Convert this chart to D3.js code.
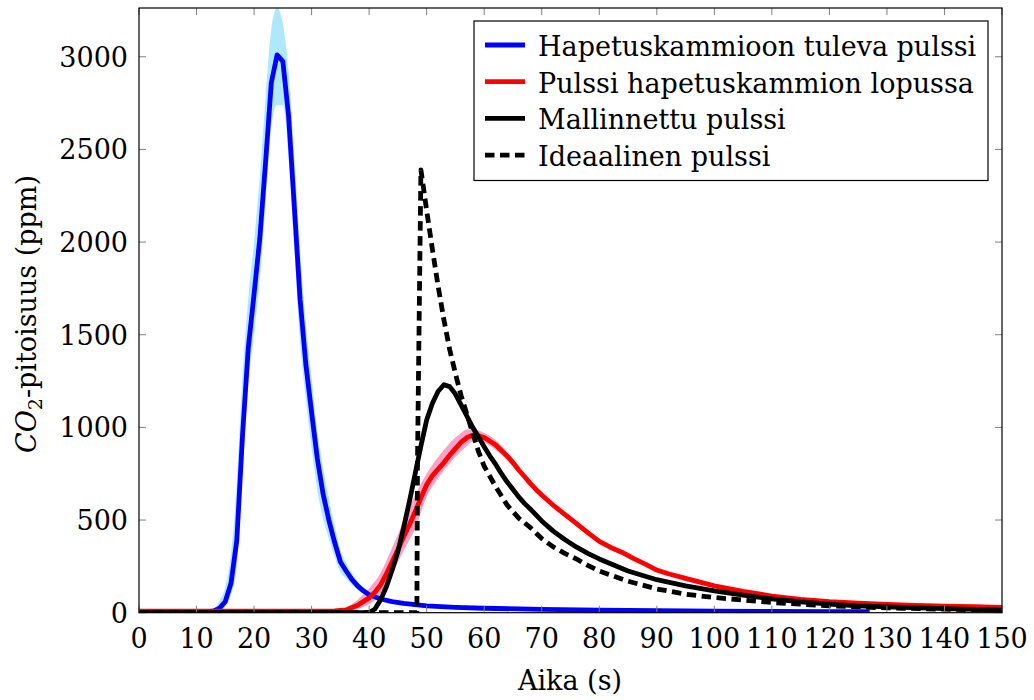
<!DOCTYPE html>
<html><head><meta charset="utf-8">
<script src="https://cdn.jsdelivr.net/npm/d3@7"></script>
<style>
body{margin:0;background:#fff;}
</style></head>
<body><svg id="c" width="1034" height="700" font-family="'DejaVu Serif', 'Liberation Serif', serif"></svg>
<script>
// ---- data ----
const xTicks = [0,10,20,30,40,50,60,70,80,90,100,110,120,130,140,150];
const yTicks = [0,500,1000,1500,2000,2500,3000];
const legendLabels = ["Hapetuskammioon tuleva pulssi","Pulssi hapetuskammion lopussa","Mallinnettu pulssi","Ideaalinen pulssi"];

const blueT = [0,5,10,12,13,14,15,16,17,18,19,20,21,22,23,24,25,26,27,28,29,30,31,32,33,34,35,36,37,38,39,40,42,44,46,48,50,55,60,70,80,90,100,110,120,127];
const blueV = [5,5,5,6,10,25,60,160,390,960,1430,1720,2020,2430,2860,3010,2975,2680,2190,1690,1340,1080,830,640,500,380,275,225,180,145,118,97,74,60,50,43,37,29,24,18,14,11,9,7,6,5];
const blueBandT = [12,13,14,15,16,17,18,19,20,21,22,23,24,25,26,27,28,29,30,31,32,33,34,35,36,37,38,40];
const blueUpper = [8,22,65,140,320,700,1280,1700,2000,2350,2780,3150,3263,3180,2920,2460,1960,1560,1270,980,780,620,470,340,270,215,170,112];
const blueLower = [4,6,12,35,95,240,780,1240,1500,1800,2200,2620,2740,2740,2450,1960,1460,1150,890,660,510,400,300,220,185,150,122,86];

const redT = [0,10,20,30,34,36,38,40,41,42,43,44,45,46,47,48,49,50,51,52,53,54,55,56,57,58,59,60,61,62,63,64,65,66,67,68,69,70,72,74,76,78,80,82,84,86,88,90,92,95,100,105,110,115,120,125,130,135,140,145,150];
const redV = [8,8,8,8,10,15,40,80,110,150,210,275,340,410,475,545,620,690,740,775,810,850,885,920,945,958,955,945,925,905,875,845,810,770,735,698,665,635,580,530,482,432,385,352,325,292,262,230,210,185,145,115,90,72,60,52,45,40,35,32,28];
const redBandT = [34,36,38,40,42,44,46,48,50,52,54,56,57,58,60,62,64,66];
const redUpper = [14,28,70,130,215,350,495,635,750,840,915,970,988,988,970,932,866,790];
const redLower = [6,8,20,45,100,205,335,455,625,725,805,872,900,922,916,878,822,752];

const modelT = [0,40,41,42,43,44,45,46,47,48,49,50,51,52,53,54,55,56,57,58,59,60,61,62,63,64,65,66,67,68,70,72,74,76,78,80,85,90,95,100,105,110,115,120,125,130,140,150];
const modelV = [0,0,20,70,140,230,330,460,600,750,900,1040,1130,1195,1230,1220,1180,1120,1060,1000,950,895,845,800,750,705,665,625,590,560,495,440,395,355,320,290,225,178,145,118,95,74,58,46,37,31,22,14];

const idealT = [0,48.3,48.4,49,50,51,52,53,54,55,56,57,58,59,60,62,64,66,68,70,72,74,76,78,80,85,90,95,100,110,120,130,140,150];
const idealV = [0,0,800,2390,2170,1960,1760,1580,1420,1290,1170,1070,970,870,790,680,580,510,460,400,355,320,290,255,225,170,128,100,82,55,37,26,19,14];

// ---- layout ----
const L=139, R=1002, T=8, B=612.7;
const svg = d3.select("#c");
const x = d3.scaleLinear().domain([0,150]).range([L,R]);
const y = d3.scaleLinear().domain([0,3263]).range([B,T]);

svg.append("defs").append("clipPath").attr("id","clip")
  .append("rect").attr("x",L).attr("y",T).attr("width",R-L).attr("height",B-T);
const plot = svg.append("g").attr("clip-path","url(#clip)");

const zip = (t,v)=>t.map((d,i)=>[d,v[i]]);
const band = (t,u,l)=>t.map((d,i)=>({t:d,u:u[i],l:l[i]}));
const area = d3.area().x(d=>x(d.t)).y0(d=>y(d.l)).y1(d=>y(d.u)).curve(d3.curveMonotoneX);
const line = d3.line().x(d=>x(d[0])).y(d=>y(d[1]));

plot.append("path").datum(band(blueBandT,blueUpper,blueLower)).attr("d",area).attr("fill","#aee9fb");
plot.append("path").datum(band(redBandT,redUpper,redLower)).attr("d",area).attr("fill","#f6a3c8");

const dashPat = "9.5,5.5";
const series = [
  {t:blueT,v:blueV,c:"#0000ff",dash:null},
  {t:redT,v:redV,c:"#ff0000",dash:null},
  {t:modelT,v:modelV,c:"#000000",dash:null},
  {t:idealT,v:idealV,c:"#000000",dash:dashPat}
];
series.forEach(s=>{
  plot.append("path").datum(zip(s.t,s.v)).attr("d",line)
    .attr("fill","none").attr("stroke",s.c).attr("stroke-width",4.8)
    .attr("stroke-linejoin","round")
    .attr("stroke-dasharray",s.dash);
});

// ticks (inward, mirrored)
const tickG = svg.append("g").attr("stroke","#808080").attr("stroke-width",1);
xTicks.forEach(v=>{
  tickG.append("line").attr("x1",x(v)).attr("x2",x(v)).attr("y1",B).attr("y2",B-7);
  tickG.append("line").attr("x1",x(v)).attr("x2",x(v)).attr("y1",T).attr("y2",T+7);
});
yTicks.forEach(v=>{
  tickG.append("line").attr("x1",L).attr("x2",L+7).attr("y1",y(v)).attr("y2",y(v));
  tickG.append("line").attr("x1",R).attr("x2",R-7).attr("y1",y(v)).attr("y2",y(v));
});

// frame
svg.append("rect").attr("x",L).attr("y",T).attr("width",R-L).attr("height",B-T)
  .attr("fill","none").attr("stroke","#000").attr("stroke-width",1.2);

// tick labels
const fs = 27;
svg.append("g").selectAll("text").data(xTicks).join("text")
  .attr("x",d=>x(d)).attr("y",648).attr("text-anchor","middle").attr("font-size",fs).text(d=>d);
svg.append("g").selectAll("text").data(yTicks).join("text")
  .attr("x",128).attr("y",d=>y(d)+10).attr("text-anchor","end").attr("font-size",fs).text(d=>d);

// axis titles
svg.append("text").attr("x",570).attr("y",690).attr("text-anchor","middle").attr("font-size",fs).text("Aika (s)");
const yl = svg.append("text").attr("transform","translate(36,314) rotate(-90)")
  .attr("text-anchor","middle").attr("font-size",fs);
yl.append("tspan").attr("font-style","italic").text("CO");
yl.append("tspan").attr("font-size",19).attr("dy",6).text("2");
yl.append("tspan").attr("dy",-6).text("-pitoisuus (ppm)");

// legend
const lg = svg.append("g");
lg.append("rect").attr("x",474).attr("y",21).attr("width",514).attr("height",159.5)
  .attr("fill","#fff").attr("stroke","#000").attr("stroke-width",1.2);
legendLabels.forEach((lab,i)=>{
  const cy = 45 + i*36.7;
  const s = series[i];
  lg.append("line").attr("x1",485).attr("x2",525).attr("y1",cy).attr("y2",cy)
    .attr("stroke",s.c).attr("stroke-width",4.8).attr("stroke-dasharray",s.dash);
  lg.append("text").attr("x",538).attr("y",cy+11).attr("font-size",fs).text(lab);
});
</script></body></html>
